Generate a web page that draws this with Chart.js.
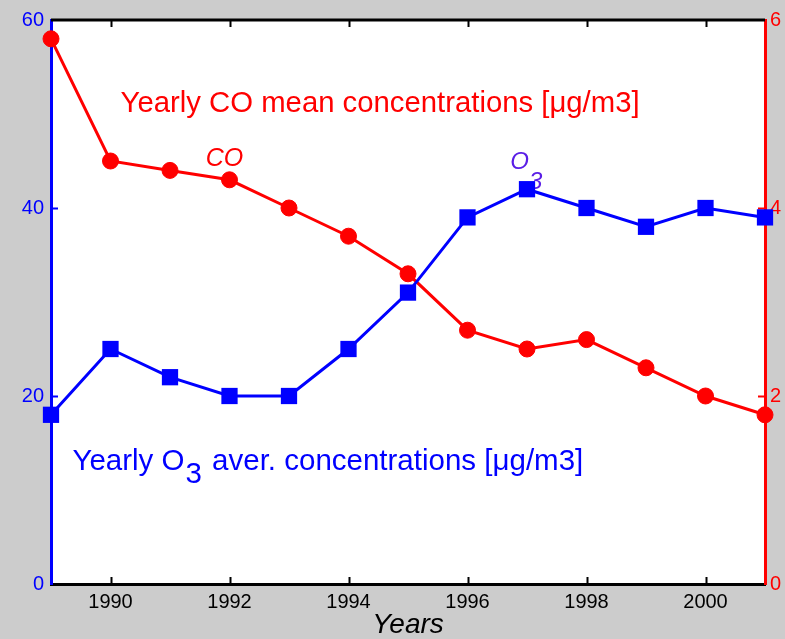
<!DOCTYPE html>
<html>
<head>
<meta charset="utf-8">
<script src="https://cdn.jsdelivr.net/npm/chart.js@4.4.0/dist/chart.umd.min.js"></script>
<style>
  html, body { margin: 0; padding: 0; background: #cccccc; }
  #wrap { width: 785px; height: 639px; position: relative; }
</style>
</head>
<body>
<div id="wrap"><canvas id="chart"></canvas></div>
<script>
// data
const years = [1989, 1990, 1991, 1992, 1993, 1994, 1995, 1996, 1997, 1998, 1999, 2000, 2001];
const coValues = [5.8, 4.5, 4.4, 4.3, 4.0, 3.7, 3.3, 2.7, 2.5, 2.6, 2.3, 2.0, 1.8];
const o3Values = [18, 25, 22, 20, 20, 25, 31, 39, 42, 40, 38, 40, 39];

const yearTicks = [1990, 1992, 1994, 1996, 1998, 2000];
const o3Ticks = [0, 20, 40, 60];
const coTicks = [0, 2, 4, 6];

const FONT = '"Liberation Sans", Arial, sans-serif';
const BLUE = '#0000ff';
const RED = '#ff0000';

// text labels inside the plot (anchored in data units of the left axis)
const annotations = [
   { x: 1990.17, y: 50.2, color: RED, size: 29.3, italic: false,
     parts: [{ t: 'Yearly CO mean concentrations [\u03bcg/m3]', dy: 0 }] },
   { x: 1991.60, y: 44.5, color: RED, size: 25, italic: true,
     parts: [{ t: 'CO', dy: 0 }] },
   { x: 1996.72, y: 44.1, color: '#5a1ee6', size: 24, italic: true,
     parts: [{ t: 'O', dy: 0 }, { t: '3', dy: 20 }] },
   { x: 1989.36, y: 12.1, color: BLUE, size: 29.5, italic: false,
     parts: [{ t: 'Yearly O', dy: 0, gap: 1 }, { t: '3', dy: 13, gap: 2 }, { t: ' aver. concentrations [\u03bcg/m3]', dy: 0 }] }
];

const toPoints = (vals) => vals.map((v, i) => ({ x: years[i], y: v }));

const framePlugin = {
   id: 'frame',
   beforeDraw(chart) {
      const { ctx, chartArea: a } = chart;
      ctx.save();
      ctx.fillStyle = '#ffffff';
      ctx.fillRect(a.left, a.top, a.right - a.left, a.bottom - a.top);
      ctx.restore();
   },
   beforeDatasetsDraw(chart) {
      const { ctx, chartArea: a, scales } = chart;
      ctx.save();
      // top border
      ctx.strokeStyle = '#000000';
      ctx.lineWidth = 3;
      ctx.beginPath();
      ctx.moveTo(a.left, a.top);
      ctx.lineTo(a.right, a.top);
      ctx.stroke();

      // inward tick marks
      ctx.lineWidth = 2;
      yearTicks.forEach(v => {
         const px = Math.round(scales.x.getPixelForValue(v)) + 0.5;
         ctx.beginPath();
         ctx.moveTo(px, a.top);
         ctx.lineTo(px, a.top + 7);
         ctx.moveTo(px, a.bottom);
         ctx.lineTo(px, a.bottom - 7);
         ctx.stroke();
      });
      ctx.strokeStyle = BLUE;
      o3Ticks.slice(1, -1).forEach(v => {
         const py = Math.round(scales.y.getPixelForValue(v)) + 0.5;
         ctx.beginPath();
         ctx.moveTo(a.left, py);
         ctx.lineTo(a.left + 7, py);
         ctx.stroke();
      });
      ctx.strokeStyle = RED;
      coTicks.slice(1, -1).forEach(v => {
         const py = Math.round(scales.y1.getPixelForValue(v)) + 0.5;
         ctx.beginPath();
         ctx.moveTo(a.right, py);
         ctx.lineTo(a.right - 7, py);
         ctx.stroke();
      });

      // text annotations
      ctx.textBaseline = 'alphabetic';
      ctx.textAlign = 'left';
      annotations.forEach(an => {
         ctx.font = (an.italic ? 'italic ' : '') + an.size + 'px ' + FONT;
         ctx.fillStyle = an.color;
         let x = scales.x.getPixelForValue(an.x);
         const y = scales.y.getPixelForValue(an.y);
         an.parts.forEach(p => {
            ctx.fillText(p.t, x, y + p.dy);
            x += ctx.measureText(p.t).width + (p.gap || 0);
         });
      });
      ctx.restore();
   }
};

new Chart(document.getElementById('chart'), {
   type: 'line',
   data: {
      datasets: [
         {
            label: 'O3',
            data: toPoints(o3Values),
            yAxisID: 'y',
            borderColor: BLUE,
            backgroundColor: BLUE,
            borderWidth: 3,
            tension: 0,
            pointStyle: 'rect',
            pointRadius: 11.5,
            pointBorderWidth: 0,
            clip: false,
            order: 1
         },
         {
            label: 'CO',
            data: toPoints(coValues),
            yAxisID: 'y1',
            borderColor: RED,
            backgroundColor: RED,
            borderWidth: 3,
            tension: 0,
            pointStyle: 'circle',
            pointRadius: 8,
            pointBorderWidth: 1,
            clip: false,
            order: 2
         }
      ]
   },
   options: {
      responsive: true,
      maintainAspectRatio: false,
      animation: false,
      layout: { padding: { top: 20, left: 0, right: 0, bottom: 0 } },
      plugins: {
         legend: { display: false },
         tooltip: { enabled: false }
      },
      scales: {
         x: {
            type: 'linear',
            min: 1989,
            max: 2001,
            afterBuildTicks: s => { s.ticks = yearTicks.map(v => ({ value: v })); },
            grid: { display: false, drawTicks: false },
            border: { display: true, color: '#000000', width: 3 },
            ticks: {
               color: '#000000',
               font: { family: FONT, size: 20 },
               padding: 6,
               maxRotation: 0,
               autoSkip: false,
               callback: v => String(v)
            },
            title: {
               display: true,
               text: 'Years',
               color: '#000000',
               font: { family: FONT, size: 28, style: 'italic', lineHeight: 1 },
               padding: 0
            },
            afterFit: s => { s.height = 55; s.paddingLeft = 0; s.paddingRight = 0; }
         },
         y: {
            position: 'left',
            min: 0,
            max: 60,
            afterBuildTicks: s => { s.ticks = o3Ticks.map(v => ({ value: v })); },
            grid: { display: false, drawTicks: false },
            border: { display: true, color: BLUE, width: 3 },
            ticks: { color: BLUE, font: { family: FONT, size: 20 }, padding: 7 },
            afterFit: s => { s.width = 51; s.paddingTop = 0; s.paddingBottom = 0; }
         },
         y1: {
            position: 'right',
            min: 0,
            max: 6,
            afterBuildTicks: s => { s.ticks = coTicks.map(v => ({ value: v })); },
            grid: { display: false, drawTicks: false },
            border: { display: true, color: RED, width: 3 },
            ticks: { color: RED, font: { family: FONT, size: 20 }, padding: 5 },
            afterFit: s => { s.width = 20; s.paddingTop = 0; s.paddingBottom = 0; }
         }
      }
   },
   plugins: [framePlugin]
});
</script>
</body>
</html>
